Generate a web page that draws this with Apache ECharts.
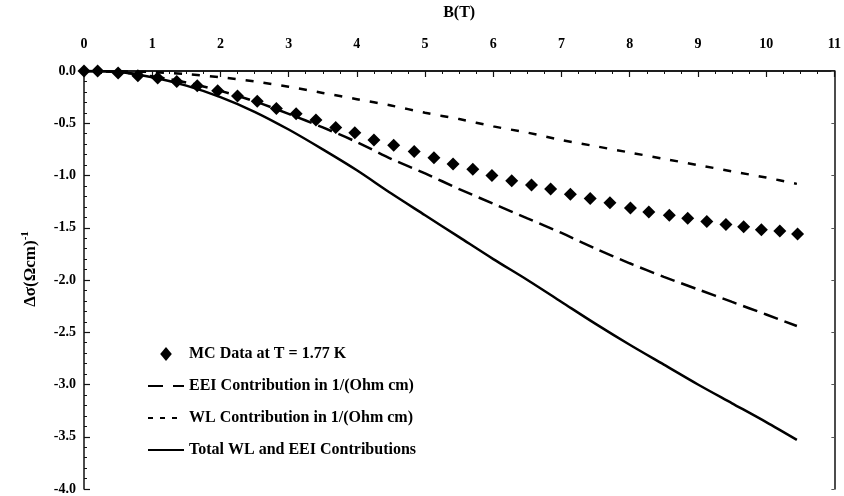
<!DOCTYPE html>
<html>
<head>
<meta charset="utf-8">
<script src="https://cdn.jsdelivr.net/npm/echarts@6/dist/echarts.min.js"></script>
<style>html,body{margin:0;padding:0;background:#fff}#c{width:844px;height:496px}</style>
</head>
<body>
<div id="c"></div>
<script>
// Data
var mcB = [0, 0.2, 0.5, 0.79, 1.08, 1.36, 1.66, 1.96, 2.25, 2.54, 2.82, 3.11, 3.40, 3.69, 3.97, 4.25, 4.54, 4.84, 5.13, 5.41, 5.70, 5.98, 6.27, 6.56, 6.84, 7.13, 7.42, 7.71, 8.01, 8.28, 8.58, 8.85, 9.13, 9.41, 9.67, 9.93, 10.20, 10.46];
var mcSigma = [0, 0.00, -0.02, -0.045, -0.066, -0.10, -0.14, -0.19, -0.24, -0.29, -0.36, -0.41, -0.47, -0.54, -0.59, -0.66, -0.71, -0.77, -0.83, -0.89, -0.94, -1.00, -1.05, -1.09, -1.13, -1.18, -1.22, -1.26, -1.31, -1.35, -1.38, -1.41, -1.44, -1.47, -1.49, -1.52, -1.53, -1.56];

var lineB = [0, 0.5, 1, 1.5, 2, 2.5, 3, 3.5, 4, 4.5, 5, 5.5, 6, 6.5, 7, 7.5, 8, 8.5, 9, 9.5, 10, 10.45];
var eeiSigma = [0, -0.01, -0.05, -0.11, -0.19, -0.29, -0.41, -0.54, -0.68, -0.84, -0.98, -1.13, -1.27, -1.41, -1.55, -1.70, -1.84, -1.97, -2.09, -2.21, -2.33, -2.44];
var wlSigma = [0, -0.003, -0.01, -0.03, -0.06, -0.10, -0.15, -0.21, -0.27, -0.33, -0.40, -0.46, -0.53, -0.59, -0.66, -0.72, -0.78, -0.84, -0.90, -0.96, -1.02, -1.08];
var totalSigma = [0, -0.01, -0.06, -0.14, -0.25, -0.39, -0.56, -0.75, -0.95, -1.17, -1.38, -1.59, -1.80, -2.00, -2.21, -2.42, -2.62, -2.81, -3.00, -3.18, -3.36, -3.53];

var seriesNames = ['MC Data at T = 1.77 K', 'EEI Contribution in 1/(Ohm cm)', 'WL Contribution in 1/(Ohm cm)', 'Total WL and EEI Contributions'];

function pairs(xs, ys) { return xs.map(function (x, i) { return [x, ys[i]]; }); }

var FONT = "'Liberation Serif', 'Times New Roman', serif";
var chart = echarts.init(document.getElementById('c'), null, { renderer: 'canvas' });
chart.setOption({
  animation: false,
  backgroundColor: '#fff',
  grid: { left: 84, right: 7, top: 68, bottom: 6, containLabel: false },
  xAxis: [{
    type: 'value', position: 'top', min: 0, max: 11, interval: 1,
    name: 'B(T)', nameLocation: 'middle', nameGap: 50,
    nameTextStyle: { fontFamily: FONT, fontWeight: 'bold', fontSize: 16, color: '#000' },
    axisLine: { show: true, lineStyle: { color: '#111', width: 1.5 } },
    axisTick: { show: true, inside: true, length: 6, lineStyle: { color: '#111', width: 1.2 } },
    minorTick: { show: true, splitNumber: 4, length: 3, lineStyle: { color: '#111', width: 1 } },
    splitLine: { show: false },
    axisLabel: { fontFamily: FONT, fontWeight: 'bold', fontSize: 14, color: '#000', margin: 20 }
  }, {
    type: 'value', position: 'bottom', min: 0, max: 11, interval: 1,
    axisLine: { show: true, lineStyle: { color: '#111', width: 1.5 } },
    axisTick: { show: false }, axisLabel: { show: false }, splitLine: { show: false }
  }],
  yAxis: [{
    type: 'value', position: 'left', min: -4, max: 0, interval: 0.5,
    name: '{n|Δσ(Ωcm)}{s|-1}', nameLocation: 'middle', nameGap: 43, nameRotate: 90,
    nameTextStyle: {
      padding: [0, 0, 0, 22],
      rich: {
        n: { fontFamily: FONT, fontWeight: 'bold', fontSize: 17, color: '#000' },
        s: { fontFamily: FONT, fontWeight: 'bold', fontSize: 11, color: '#000', verticalAlign: 'top', padding: [0, 0, 10, 0] }
      }
    },
    axisLine: { show: true, onZero: false, lineStyle: { color: '#111', width: 1.5 } },
    axisTick: { show: true, inside: true, length: 6, lineStyle: { color: '#111', width: 1.2 } },
    minorTick: { show: true, splitNumber: 5, length: 3, lineStyle: { color: '#111', width: 1 } },
    splitLine: { show: false },
    axisLabel: { fontFamily: FONT, fontWeight: 'bold', fontSize: 14, color: '#000', margin: 8,
      formatter: function (v) { return v.toFixed(1); } }
  }, {
    type: 'value', position: 'right', min: -4, max: 0, interval: 0.5,
    axisLine: { show: true, onZero: false, lineStyle: { color: '#111', width: 1.5 } },
    axisTick: { show: true, inside: true, length: 3, lineStyle: { color: '#555', width: 1 } },
    axisLabel: { show: false }, splitLine: { show: false }
  }],
  legend: {
    orient: 'vertical', left: 142, top: 340,
    itemWidth: 36, itemHeight: 14, itemGap: 14,
    symbolKeepAspect: true,
    textStyle: { fontFamily: FONT, fontWeight: 'bold', fontSize: 16, color: '#000', lineHeight: 18 },
    data: [
      { name: seriesNames[0], icon: 'path://M5,0L10,6L5,12L0,6Z' },
      { name: seriesNames[1], itemStyle: { opacity: 0 }, lineStyle: { type: [15, 10] } },
      { name: seriesNames[2], itemStyle: { opacity: 0 }, lineStyle: { type: [5, 7] } },
      { name: seriesNames[3], itemStyle: { opacity: 0 } }
    ]
  },
  series: [{
    name: seriesNames[0], type: 'scatter', xAxisIndex: 0, yAxisIndex: 0,
    symbol: 'diamond', symbolSize: 13, itemStyle: { color: '#000', opacity: 1 },
    data: pairs(mcB, mcSigma), z: 5
  }, {
    name: seriesNames[1], type: 'line', xAxisIndex: 0, yAxisIndex: 0,
    smooth: 0.3, symbol: 'none', showSymbol: false,
    lineStyle: { color: '#000', width: 2.5, type: [15, 7] }, itemStyle: { color: '#000' },
    data: pairs(lineB, eeiSigma)
  }, {
    name: seriesNames[2], type: 'line', xAxisIndex: 0, yAxisIndex: 0,
    smooth: 0.3, symbol: 'none', showSymbol: false,
    lineStyle: { color: '#000', width: 2.5, type: [8, 10] }, itemStyle: { color: '#000' },
    data: pairs(lineB, wlSigma)
  }, {
    name: seriesNames[3], type: 'line', xAxisIndex: 0, yAxisIndex: 0,
    smooth: 0.3, symbol: 'none', showSymbol: false,
    lineStyle: { color: '#000', width: 2.5, type: 'solid' }, itemStyle: { color: '#000' },
    data: pairs(lineB, totalSigma)
  }]
});
</script>
</body>
</html>
